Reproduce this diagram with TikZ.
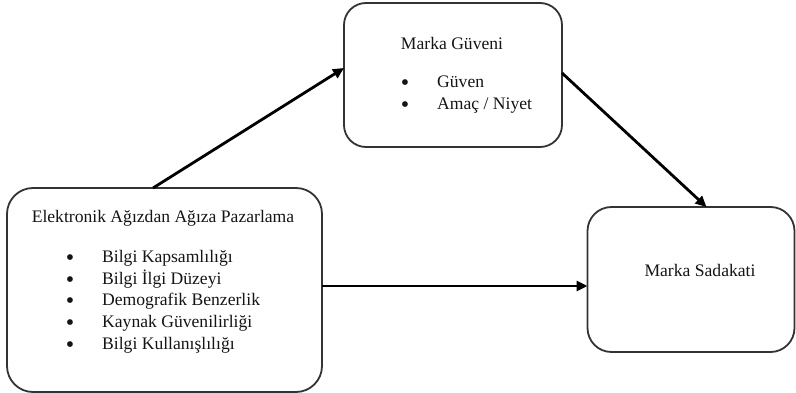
\documentclass[tikz,border=0pt]{standalone}
\usepackage{fontspec}
\setmainfont{Liberation Serif}
\usetikzlibrary{arrows.meta}
\definecolor{ink}{HTML}{141414}
\definecolor{edge}{HTML}{333333}
\tikzset{
  box/.style={draw=edge, line width=1.8pt, rounded corners=#1, outer sep=0pt, inner sep=0pt},
  txt/.style={font=\fontsize{17.6}{21}\selectfont, text=ink, inner sep=0pt},
  itm/.style={txt, anchor=mid west},
  bul/.style={font=\fontsize{24}{24}\selectfont, text=ink, inner sep=0pt},
  conn/.style={draw=black, line width=2.8pt, -{Triangle[length=11pt,width=10pt]}}
}
\begin{document}
\begin{tikzpicture}[x=1pt,y=-1pt]
\useasboundingbox (0,0) rectangle (796,393);
% boxes
\node[box=26pt, minimum width=315pt, minimum height=204pt] (L) at (164.5,290) {};
\node[box=22pt, minimum width=218pt, minimum height=144pt] (M) at (453,75) {};
\node[box=24pt, minimum width=207pt, minimum height=145pt] (R) at (691,279.5) {};
% left text
\node[txt] (lt) at (163,218) {Elektronik Ağızdan Ağıza Pazarlama};
\foreach \i/\t [count=\k] in {260/Bilgi Kapsamlılığı, 281.75/Bilgi İlgi Düzeyi, 303.5/Demografik Benzerlik, 325.25/Kaynak Güvenilirliği, 347/Bilgi Kullanışlılığı}{
  \node[bul] (lb\k) at (70,\i) {•};
  \node[itm] (li\k) at (102,\i) {\t};
}
% middle text
\node[txt] (mt) at (452,43) {Marka Güveni};
\node[bul] (mb1) at (405,85) {•};
\node[itm] (mi1) at (437,85) {Güven};
\node[bul] (mb2) at (405,107) {•};
\node[itm] (mi2) at (437,107) {Amaç / Niyet};
% right text
\node[txt] (rt) at (700,270) {Marka Sadakati};
% connectors
\draw[conn] ([xshift=146pt]L.north west) -- ([yshift=-65pt]M.north west);
\draw[conn] ([yshift=-70pt]M.north east) -- ([xshift=119pt]R.north west);
\draw[conn] (L.east |- 0,286) -- (R.west |- 0,286);
\end{tikzpicture}
\end{document}
